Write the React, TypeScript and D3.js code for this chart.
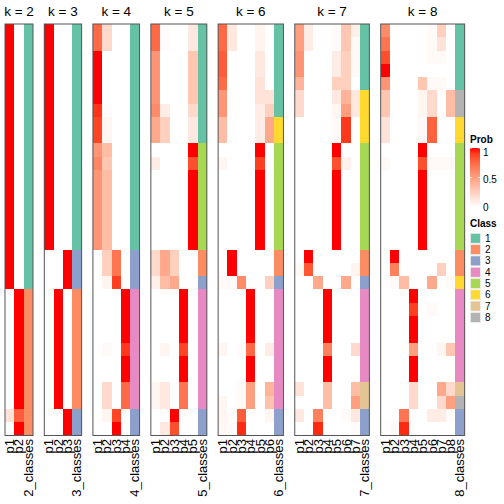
import React from "react";
import * as d3 from "d3";

// ---- data ----
const ks = [2, 3, 4, 5, 6, 7, 8];

const probK2: number[][] = [
  [1, 0], [1, 0], [1, 0], [1, 0], [1, 0], [1, 0], [1, 0], [1, 0], [1, 0], [1, 0],
  [1, 0], [1, 0], [1, 0], [1, 0], [1, 0], [1, 0], [1, 0], [1, 0], [1, 0], [1, 0],
  [0, 1], [0, 1], [0, 1], [0, 1], [0, 1], [0, 1], [0, 1], [0, 1], [0, 1],
  [0.15, 0.8], [0, 1],
];
const classK2 = [1, 1, 1, 1, 1, 1, 1, 1, 1, 1, 1, 1, 1, 1, 1, 1, 1, 1, 1, 1, 2, 2, 2, 2, 2, 2, 2, 2, 2, 2, 2];

const probK3: number[][] = [
  [1, 0, 0], [1, 0, 0], [1, 0, 0], [1, 0, 0], [1, 0, 0], [1, 0, 0], [1, 0, 0], [1, 0, 0], [1, 0, 0], [1, 0, 0],
  [1, 0, 0], [1, 0, 0], [1, 0, 0], [1, 0, 0], [1, 0, 0], [1, 0, 0], [1, 0, 0],
  [0, 0, 1], [0, 0, 1], [0, 0, 1],
  [0, 1, 0], [0, 1, 0], [0, 1, 0], [0, 1, 0], [0, 1, 0], [0, 1, 0], [0, 1, 0], [0, 1, 0], [0, 1, 0],
  [0, 0, 1], [0, 0, 1],
];
const classK3 = [1, 1, 1, 1, 1, 1, 1, 1, 1, 1, 1, 1, 1, 1, 1, 1, 1, 3, 3, 3, 2, 2, 2, 2, 2, 2, 2, 2, 2, 3, 3];

const probK4: number[][] = [
  [0.75, 0.2, 0, 0], [0.75, 0.2, 0, 0], [1, 0, 0, 0], [1, 0, 0, 0], [1, 0, 0, 0], [1, 0, 0, 0],
  [0.93, 0.02, 0, 0], [0.88, 0.05, 0, 0], [0.88, 0.05, 0, 0],
  [0.55, 0.35, 0, 0], [0.62, 0.3, 0, 0], [0.55, 0.35, 0, 0], [0.55, 0.35, 0, 0], [0.55, 0.35, 0, 0],
  [0.55, 0.35, 0, 0], [0.55, 0.35, 0, 0], [0.55, 0.35, 0, 0],
  [0, 0.25, 0.7, 0], [0, 0.25, 0.7, 0], [0, 0.05, 0.9, 0],
  [0, 0, 0, 1], [0, 0, 0, 1], [0, 0, 0, 1], [0, 0, 0, 1], [0, 0.03, 0, 0.92], [0, 0, 0, 1], [0, 0, 0, 1],
  [0, 0.2, 0, 0.75], [0, 0.2, 0, 0.75],
  [0, 0.05, 0.88, 0], [0, 0, 1, 0],
];
const classK4 = [1, 1, 1, 1, 1, 1, 1, 1, 1, 1, 1, 1, 1, 1, 1, 1, 1, 3, 3, 3, 4, 4, 4, 4, 4, 4, 4, 4, 4, 3, 3];

const probK5: number[][] = [
  [0.75, 0.02, 0, 0, 0.12], [0.75, 0.02, 0, 0, 0.12],
  [0.55, 0, 0, 0, 0.3], [0.55, 0, 0, 0, 0.3], [0.55, 0, 0, 0, 0.3], [0.55, 0, 0, 0, 0.3],
  [0.6, 0.1, 0, 0, 0.2], [0.45, 0.25, 0, 0, 0.12], [0.45, 0.25, 0, 0, 0.12],
  [0, 0, 0, 0, 1], [0.1, 0, 0, 0, 0.85], [0, 0, 0, 0, 1], [0, 0, 0, 0, 1], [0, 0, 0, 0, 1],
  [0, 0, 0, 0, 1], [0, 0, 0, 0, 1], [0, 0, 0, 0, 1],
  [0.2, 0.45, 0.25, 0, 0], [0.2, 0.45, 0.25, 0, 0], [0.08, 0.35, 0.45, 0, 0],
  [0, 0, 0, 1, 0], [0, 0, 0, 1, 0], [0, 0, 0, 1, 0], [0, 0, 0, 1, 0], [0, 0.05, 0, 0.88, 0],
  [0, 0, 0, 1, 0], [0, 0, 0, 1, 0], [0.05, 0.12, 0, 0.7, 0], [0.05, 0.12, 0, 0.7, 0],
  [0, 0, 1, 0, 0], [0, 0.12, 0.85, 0, 0],
];
const classK5 = [1, 1, 1, 1, 1, 1, 1, 1, 1, 5, 5, 5, 5, 5, 5, 5, 5, 2, 2, 3, 4, 4, 4, 4, 4, 4, 4, 4, 4, 3, 3];

const probK6: number[][] = [
  [0.75, 0.12, 0, 0, 0.06, 0], [0.75, 0.12, 0, 0, 0.06, 0],
  [0.8, 0, 0, 0, 0.12, 0], [0.8, 0, 0, 0, 0.12, 0], [0.75, 0, 0, 0, 0.15, 0],
  [0.55, 0, 0, 0, 0.15, 0.15], [0.55, 0, 0, 0, 0.1, 0.25],
  [0.35, 0, 0, 0, 0.1, 0.45], [0.35, 0, 0, 0, 0.1, 0.45],
  [0, 0, 0, 0, 1, 0], [0.05, 0, 0, 0, 0.9, 0], [0, 0, 0, 0, 1, 0], [0, 0, 0, 0, 1, 0], [0, 0, 0, 0, 1, 0],
  [0, 0, 0, 0, 1, 0], [0, 0, 0, 0, 1, 0], [0, 0, 0, 0, 1, 0],
  [0, 1, 0, 0, 0, 0], [0, 1, 0, 0, 0, 0], [0.03, 0.03, 0.6, 0, 0, 0.25],
  [0, 0, 0, 1, 0, 0], [0, 0, 0, 1, 0, 0], [0, 0, 0, 1, 0, 0], [0, 0, 0, 1, 0, 0],
  [0.05, 0, 0.02, 0.75, 0, 0.1], [0, 0, 0, 1, 0, 0], [0, 0, 0, 1, 0, 0],
  [0, 0, 0.03, 0.5, 0, 0.4], [0.05, 0, 0.03, 0.5, 0, 0.32],
  [0.05, 0.02, 0.8, 0, 0, 0.05], [0.04, 0.02, 0.95, 0, 0, 0],
];
const classK6 = [1, 1, 1, 1, 1, 1, 1, 6, 6, 5, 5, 5, 5, 5, 5, 5, 5, 2, 2, 3, 4, 4, 4, 4, 4, 4, 4, 4, 4, 3, 3];

const probK7: number[][] = [
  [0.5, 0.1, 0, 0, 0.03, 0.3, 0.08], [0.5, 0.1, 0, 0, 0.03, 0.3, 0.03],
  [0.55, 0, 0, 0, 0.1, 0.25, 0.03], [0.55, 0, 0, 0, 0.1, 0.25, 0.03],
  [0.4, 0, 0, 0, 0.25, 0.25, 0], [0.2, 0, 0, 0, 0.12, 0.4, 0.12], [0.2, 0, 0, 0, 0.05, 0.5, 0.12],
  [0, 0, 0, 0, 0.03, 0.92, 0], [0, 0, 0, 0, 0.03, 0.92, 0],
  [0, 0, 0, 0, 1, 0, 0], [0, 0, 0, 0, 0.85, 0.07, 0], [0, 0, 0, 0, 1, 0, 0], [0, 0, 0, 0, 1, 0, 0],
  [0, 0, 0, 0, 1, 0, 0], [0, 0, 0, 0, 1, 0, 0], [0, 0, 0, 0, 1, 0, 0], [0, 0, 0, 0, 1, 0, 0],
  [0, 1, 0, 0, 0, 0, 0], [0.04, 0.82, 0, 0, 0, 0, 0.06], [0, 0, 0.45, 0, 0, 0.45, 0],
  [0, 0, 0, 1, 0, 0, 0], [0, 0, 0, 1, 0, 0, 0], [0, 0, 0, 1, 0, 0, 0], [0, 0, 0, 1, 0, 0, 0],
  [0, 0, 0, 0.65, 0, 0, 0.2], [0, 0, 0, 1, 0, 0, 0], [0, 0, 0, 1, 0, 0, 0],
  [0.15, 0, 0, 0.35, 0, 0, 0.35], [0, 0, 0, 0.35, 0, 0, 0.5],
  [0.12, 0, 0.65, 0, 0, 0.03, 0.12], [0, 0, 0.95, 0, 0, 0, 0.02],
];
const classK7 = [1, 1, 1, 1, 1, 6, 6, 6, 6, 5, 5, 5, 5, 5, 5, 5, 5, 2, 2, 3, 4, 4, 4, 4, 4, 4, 4, 7, 7, 3, 3];

const probK8: number[][] = [
  [0.6, 0, 0, 0, 0, 0.03, 0.25, 0], [0.7, 0, 0, 0, 0, 0.03, 0.15, 0],
  [0.85, 0, 0, 0, 0, 0.03, 0.03, 0], [1, 0, 0, 0, 0, 0, 0, 0],
  [0.55, 0, 0, 0, 0.3, 0.03, 0.03, 0],
  [0.3, 0, 0, 0, 0.05, 0.2, 0, 0.35], [0.3, 0, 0, 0, 0.05, 0.2, 0, 0.35],
  [0.15, 0, 0, 0, 0.03, 0.78, 0, 0], [0.15, 0, 0, 0, 0.03, 0.78, 0, 0],
  [0, 0, 0, 0, 1, 0, 0, 0], [0.03, 0, 0, 0, 0.85, 0.03, 0.03, 0.03],
  [0, 0, 0, 0, 1, 0, 0, 0], [0, 0, 0, 0, 1, 0, 0, 0], [0, 0, 0, 0, 1, 0, 0, 0],
  [0, 0, 0, 0, 1, 0, 0, 0], [0, 0, 0, 0, 1, 0, 0, 0], [0, 0, 0, 0, 1, 0, 0, 0],
  [0, 1, 0, 0, 0, 0, 0, 0], [0, 0.65, 0, 0, 0, 0, 0.25, 0], [0, 0.03, 0.35, 0, 0, 0.45, 0, 0.03],
  [0, 0, 0, 1, 0, 0, 0, 0], [0, 0, 0, 0.9, 0, 0.03, 0, 0], [0, 0, 0, 1, 0, 0, 0, 0], [0, 0, 0, 1, 0, 0, 0, 0],
  [0, 0, 0, 0.5, 0, 0, 0.05, 0.3], [0, 0, 0, 1, 0, 0, 0, 0], [0, 0, 0, 1, 0, 0, 0, 0],
  [0, 0, 0, 0.2, 0, 0, 0.45, 0.2], [0, 0, 0, 0.2, 0, 0, 0.2, 0.5],
  [0, 0, 0.7, 0, 0, 0.1, 0.1, 0.02], [0, 0.03, 0.95, 0, 0, 0, 0, 0],
];
const classK8 = [1, 1, 1, 1, 1, 8, 8, 6, 6, 5, 5, 5, 5, 5, 5, 5, 5, 2, 2, 6, 4, 4, 4, 4, 4, 4, 4, 7, 8, 3, 3];

const probByK = [probK2, probK3, probK4, probK5, probK6, probK7, probK8];
const classByK = [classK2, classK3, classK4, classK5, classK6, classK7, classK8];

const classLevels = ["1", "2", "3", "4", "5", "6", "7", "8"];
const classColors = ["#66C2A5", "#FC8D62", "#8DA0CB", "#E78AC3", "#A6D854", "#FFD92F", "#E5C494", "#B3B3B3"];
const probTicks = [1, 0.5, 0];

// ---- layout ----
const W = 504;
const H = 504;
const CELL_W = 9.33;
const GAP = 11.3;
const X0 = 5;
const TOP = 24;
const BOTTOM = 435.5;
const FONT = "Liberation Sans, Arial, Helvetica, sans-serif";

export default function App() {
  const nRows = probK2.length;
  const y = d3.scaleBand<number>().domain(d3.range(nRows)).range([TOP, BOTTOM]);
  const probColor = d3
    .scaleLinear<string>()
    .domain([0, 1])
    .range(["#FFFFFF", "#FF0000"])
    .interpolate(d3.interpolateLab);
  const classColor = d3.scaleOrdinal<string, string>().domain(classLevels).range(classColors);

  let xCursor = X0;
  const panels = ks.map((k, i) => {
    const probs = probByK[i];
    const cls = classByK[i];
    const cols = d3.range(k).map((j) => `p${j + 1}`).concat([`${k}_classes`]);
    const x = d3
      .scaleBand<string>()
      .domain(cols)
      .range([xCursor, xCursor + cols.length * CELL_W]);
    xCursor += cols.length * CELL_W + GAP;
    return { k, probs, cls, cols, x };
  });

  // legend
  const legX = 470;
  const barTop = 148;
  const barBottom = 207;
  const legY = d3.scaleLinear().domain([0, 1]).range([barBottom, barTop]);
  const gradStops = d3.range(0, 1.0001, 0.1);
  const clsTop = 233.3;
  const clsStep = 11.3;

  return (
    <svg
      width={W}
      height={H}
      style={{ position: "absolute", left: 0, top: 0, background: "#fff" }}
      fontFamily={FONT}
    >
      <defs>
        <linearGradient id="probGrad" x1="0" y1="1" x2="0" y2="0">
          {gradStops.map((t) => (
            <stop key={t} offset={t} stopColor={probColor(t)} />
          ))}
        </linearGradient>
      </defs>
      <rect width={W} height={H} fill="#fff" />
      {panels.map((p) => {
        const [x0, x1] = p.x.range();
        const cx = (x0 + x1) / 2;
        return (
          <g key={p.k}>
            <text x={cx} y={15.5} textAnchor="middle" fontSize={13.5} fill="#000">
              {`k = ${p.k}`}
            </text>
            <g shapeRendering="crispEdges">
              {p.probs.map((row, r) =>
                row.map((v, c) => (
                  <rect
                    key={`${r}-${c}`}
                    x={p.x(p.cols[c])}
                    y={y(r)}
                    width={p.x.bandwidth() + 0.3}
                    height={y.bandwidth() + 0.3}
                    fill={probColor(v)}
                  />
                ))
              )}
              {p.cls.map((cl, r) => (
                <rect
                  key={`c-${r}`}
                  x={p.x(p.cols[p.cols.length - 1])}
                  y={y(r)}
                  width={p.x.bandwidth()}
                  height={y.bandwidth() + 0.3}
                  fill={classColor(String(cl))}
                />
              ))}
            </g>
            <rect
              x={x0}
              y={TOP}
              width={x1 - x0}
              height={BOTTOM - TOP}
              fill="none"
              stroke="#555"
              strokeWidth={1}
            />
            {p.cols.map((name) => {
              const lx = (p.x(name) as number) + p.x.bandwidth() / 2;
              return (
                <text
                  key={name}
                  transform={`translate(${lx},${439}) rotate(-90)`}
                  textAnchor="end"
                  dominantBaseline="central"
                  fontSize={13}
                  fill="#000"
                >
                  {name}
                </text>
              );
            })}
          </g>
        );
      })}

      {/* Prob legend */}
      <text x={legX} y={143} fontSize={10} fontWeight="bold" fill="#000">
        Prob
      </text>
      <rect x={legX} y={barTop} width={10} height={barBottom - barTop} fill="url(#probGrad)" />
      {probTicks.map((t) => (
        <g key={t}>
          <line x1={legX} x2={legX + 2} y1={legY(t)} y2={legY(t)} stroke="#fff" strokeWidth={0.8} />
          <line x1={legX + 8} x2={legX + 10} y1={legY(t)} y2={legY(t)} stroke="#fff" strokeWidth={0.8} />
          <text
            x={legX + 13}
            y={t === 1 ? legY(t) + 4 : t === 0 ? legY(t) - 0 : legY(t) + 2}
            fontSize={10}
            dominantBaseline="central"
            fill="#000"
          >
            {String(t)}
          </text>
        </g>
      ))}

      {/* Class legend */}
      <text x={legX} y={227} fontSize={10} fontWeight="bold" fill="#000">
        Class
      </text>
      {classLevels.map((lv, i) => (
        <g key={lv}>
          <rect
            x={legX + 0.5}
            y={clsTop + i * clsStep}
            width={10}
            height={10}
            fill={classColor(lv)}
            stroke="#eee"
            strokeWidth={0.8}
          />
          <text
            x={legX + 15}
            y={clsTop + i * clsStep + 5}
            fontSize={10}
            dominantBaseline="central"
            fill="#000"
          >
            {lv}
          </text>
        </g>
      ))}
    </svg>
  );
}
